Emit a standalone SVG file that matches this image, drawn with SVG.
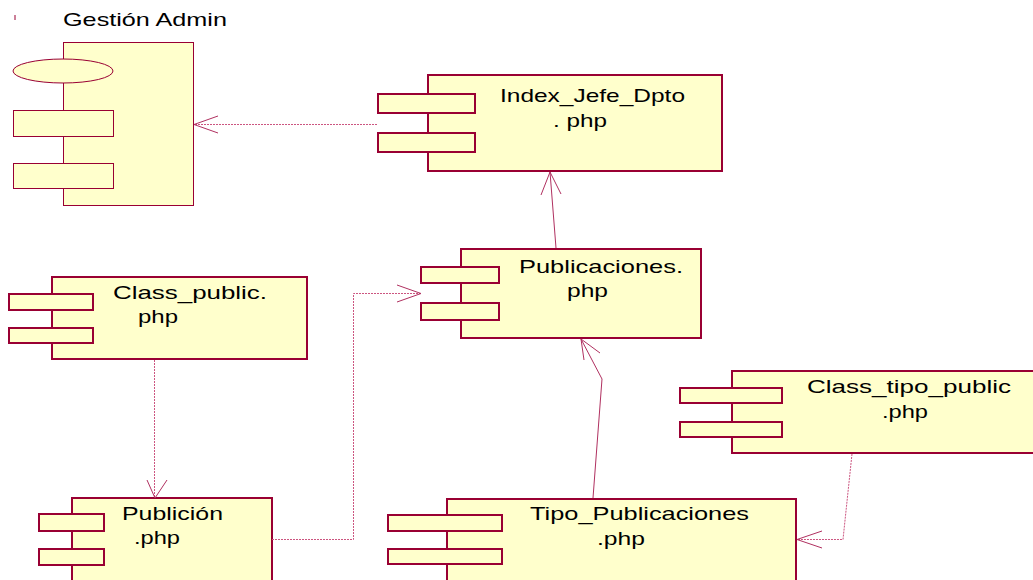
<svg xmlns="http://www.w3.org/2000/svg" width="1033" height="580" viewBox="0 0 1033 580">
<style>
.body{fill:#FFFFCC;stroke:#990033;stroke-width:2}
.thin{fill:#FFFFCC;stroke:#990033;stroke-width:1}
.tab{fill:#FFFFCC;stroke:#990033;stroke-width:2}
.lbl{font-family:"Liberation Sans",Arial,sans-serif;font-size:19px;fill:#000}
.dep{fill:none;stroke:#CC5580;stroke-width:1;stroke-dasharray:2,1}
.sol{fill:none;stroke:#B03060;stroke-width:1}
.head{fill:none;stroke:#B03060;stroke-width:1}
</style>
<rect width="1033" height="580" fill="#fff"/>
<line x1="15" y1="15" x2="15" y2="20" stroke="#990033" stroke-width="1"/>
<g id="gestion_admin">
<text class="lbl" x="63" y="26" textLength="164" lengthAdjust="spacingAndGlyphs">Gestión Admin</text>
<rect class="thin" x="63.5" y="42.5" width="130" height="163"/>
<ellipse class="thin" cx="63" cy="71" rx="50" ry="12"/>
<rect class="thin" x="13.5" y="110.5" width="100" height="26"/>
<rect class="thin" x="13.5" y="163.5" width="100" height="25"/>
</g>
<g id="index_jefe_dpto">
<rect class="body" x="428" y="75" width="294" height="96"/>
<rect class="tab" x="378" y="94" width="97" height="19"/>
<rect class="tab" x="378" y="133" width="97" height="19"/>
<text class="lbl" x="500" y="102" textLength="185" lengthAdjust="spacingAndGlyphs">Index_Jefe_Dpto</text>
<text class="lbl" x="553" y="127" textLength="54" lengthAdjust="spacingAndGlyphs">. php</text>
</g>
<g id="publicaciones">
<rect class="body" x="461" y="249" width="240" height="89"/>
<rect class="tab" x="421" y="267" width="78" height="16"/>
<rect class="tab" x="421" y="303" width="78" height="17"/>
<text class="lbl" x="519" y="273" textLength="164" lengthAdjust="spacingAndGlyphs">Publicaciones.</text>
<text class="lbl" x="567" y="297" textLength="41" lengthAdjust="spacingAndGlyphs">php</text>
</g>
<g id="class_public">
<rect class="body" x="52" y="277" width="255" height="82"/>
<rect class="tab" x="9" y="294" width="84" height="16"/>
<rect class="tab" x="9" y="328" width="84" height="15"/>
<text class="lbl" x="113" y="299" textLength="154" lengthAdjust="spacingAndGlyphs">Class_public.</text>
<text class="lbl" x="138" y="323" textLength="40" lengthAdjust="spacingAndGlyphs">php</text>
</g>
<g id="publicion">
<rect class="body" x="72" y="498" width="200" height="90"/>
<rect class="tab" x="39" y="514" width="65" height="17"/>
<rect class="tab" x="39" y="549" width="65" height="16"/>
<text class="lbl" x="122" y="520" textLength="101" lengthAdjust="spacingAndGlyphs">Publición</text>
<text class="lbl" x="134" y="544" textLength="46" lengthAdjust="spacingAndGlyphs">.php</text>
</g>
<g id="tipo_publicaciones">
<rect class="body" x="447" y="499" width="349" height="90"/>
<rect class="tab" x="388" y="515" width="114" height="16"/>
<rect class="tab" x="388" y="549" width="114" height="15"/>
<text class="lbl" x="530" y="520" textLength="219" lengthAdjust="spacingAndGlyphs">Tipo_Publicaciones</text>
<text class="lbl" x="597" y="545" textLength="48" lengthAdjust="spacingAndGlyphs">.php</text>
</g>
<g id="class_tipo_public">
<rect class="body" x="732" y="371" width="310" height="82"/>
<rect class="tab" x="680" y="388" width="102" height="15"/>
<rect class="tab" x="680" y="422" width="102" height="15"/>
<text class="lbl" x="807" y="393" textLength="204" lengthAdjust="spacingAndGlyphs">Class_tipo_public</text>
<text class="lbl" x="882" y="418" textLength="46" lengthAdjust="spacingAndGlyphs">.php</text>
</g>
<g id="connectors">
<path class="dep" d="M377,124.5 H194"/>
<path class="head" d="M218,116 L194,124.5 L218,133"/>
<path class="sol" d="M556,248 L550,172"/>
<path class="head" d="M541,195 L550,172 L561,194"/>
<path class="dep" d="M154.5,360 V497"/>
<path class="head" d="M147,480 L155,498 L167,480"/>
<path class="dep" d="M272,539.5 H353.5 V293.5 H420"/>
<path class="head" d="M397,285 L421,293.5 L397,302"/>
<path class="sol" d="M593,498 L602,379 L581,339"/>
<path class="head" d="M600,353 L581,339 L584,360"/>
<path class="dep" d="M852,454 L843,539.5 H798"/>
<path class="head" d="M822,531 L797,539.5 L822,548"/>
</g>
</svg>
